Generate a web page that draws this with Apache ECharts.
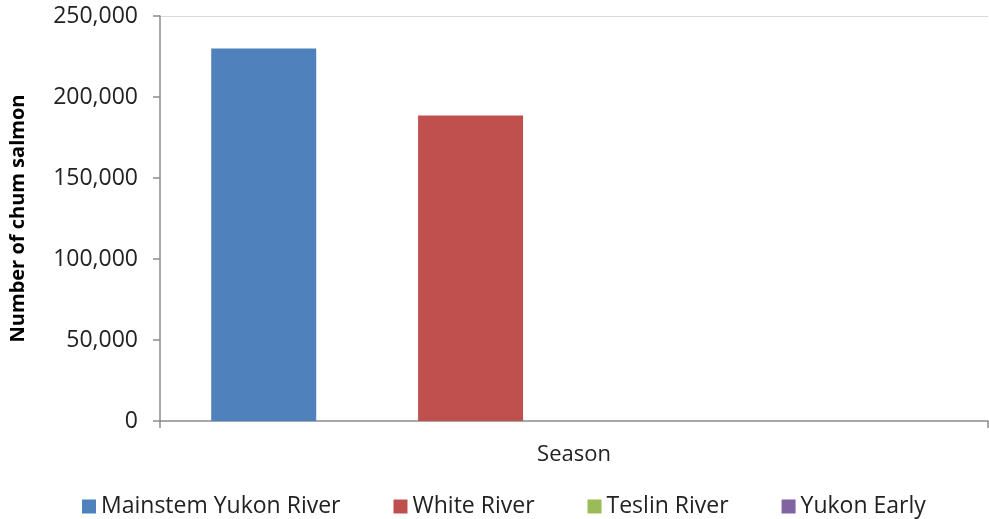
<!DOCTYPE html>
<html>
<head>
<meta charset="utf-8">
<script src="https://cdn.jsdelivr.net/npm/echarts@6/dist/echarts.min.js"></script>
<style>
  html, body { margin: 0; padding: 0; background: #fff; }
  #chart { width: 989px; height: 519px; }
</style>
</head>
<body>
<div id="chart"></div>
<script>
// Chum salmon counts by stock, single season
const categories = ['Season'];
const seriesNames = ['Mainstem Yukon River', 'White River', 'Teslin River', 'Yukon Early'];
const mainstemYukon = [230000];
const whiteRiver = [188600];
const teslinRiver = [0];
const yukonEarly = [0];
const yTicks = { min: 0, max: 250000, interval: 50000 };

const colors = ['#4F81BD', '#C0504D', '#9BBB59', '#8064A2'];
const values = [mainstemYukon, whiteRiver, teslinRiver, yukonEarly];
const fontFamily = '"Open Sans", "Noto Sans", sans-serif';

const chart = echarts.init(document.getElementById('chart'));
chart.setOption({
  animation: false,
  color: colors,
  grid: { left: 160, right: 1, top: 16, bottom: 98 },
  legend: {
    bottom: -4,
    left: 77,
    itemWidth: 14,
    itemHeight: 14,
    itemGap: 53,
    icon: 'rect',
    textStyle: { fontFamily, fontSize: 23, color: '#222' },
    data: seriesNames
  },
  xAxis: {
    type: 'category',
    data: categories,
    axisLine: { lineStyle: { color: '#8c8c8c', width: 1.5 } },
    axisTick: { show: true, length: 7, lineStyle: { color: '#8c8c8c', width: 1.5 } },
    axisLabel: { fontFamily, fontSize: 22, color: '#222', margin: 23 }
  },
  yAxis: {
    type: 'value',
    min: yTicks.min,
    max: yTicks.max,
    interval: yTicks.interval,
    name: 'Number of chum salmon',
    nameLocation: 'middle',
    nameGap: 132,
    nameTextStyle: { fontFamily, fontSize: 20, fontWeight: 'bold', color: '#000' },
    axisLine: { show: true, lineStyle: { color: '#8c8c8c', width: 1.5 } },
    axisTick: { show: true, length: 7, lineStyle: { color: '#8c8c8c', width: 1.5 } },
    axisLabel: {
      fontFamily, fontSize: 23, color: '#222', margin: 22,
      formatter: v => v.toLocaleString('en-US')
    },
    splitLine: {
      show: true,
      lineStyle: { color: ['rgba(0,0,0,0)', 'rgba(0,0,0,0)', 'rgba(0,0,0,0)', 'rgba(0,0,0,0)', 'rgba(0,0,0,0)', '#d9d9d9'] }
    }
  },
  series: seriesNames.map((name, i) => ({
    name,
    type: 'bar',
    data: values[i],
    barWidth: 105,
    barGap: '97%',
    itemStyle: { color: colors[i] }
  }))
});
</script>
</body>
</html>
